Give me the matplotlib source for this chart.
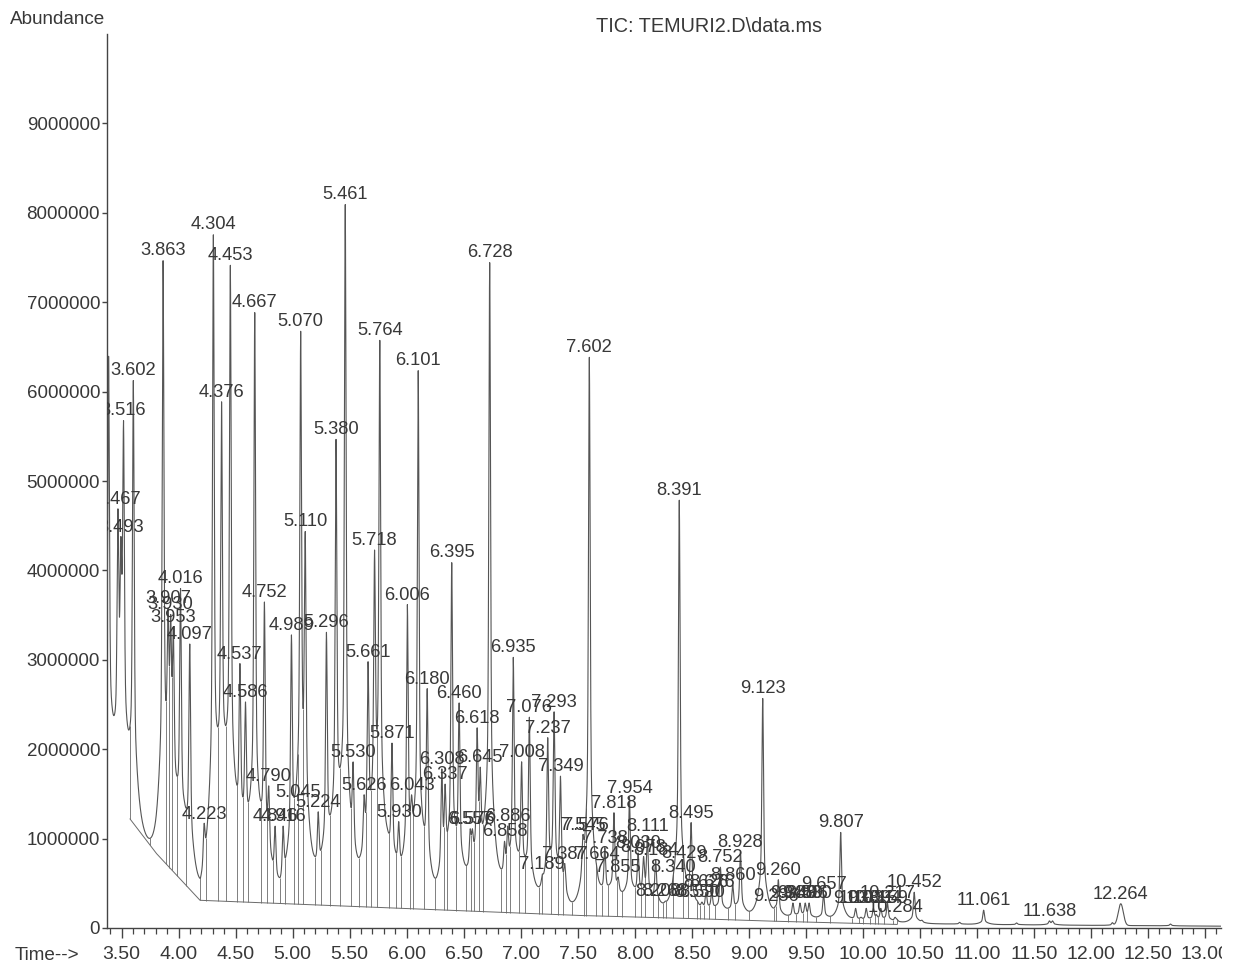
import numpy as np
import matplotlib
matplotlib.use("Agg")
import matplotlib.pyplot as plt
from matplotlib.transforms import offset_copy, Bbox

plt.rcParams['font.family'] = ['Liberation Sans Narrow', 'Liberation Sans', 'DejaVu Sans']

# ---------------- data ----------------
# labelled peaks: retention time (min) and apex abundance (millions)
peak_times = [3.467, 3.493, 3.516, 3.602, 3.863, 3.907, 3.930, 3.953, 4.016, 4.097,
              4.223, 4.304, 4.376, 4.453, 4.537, 4.586, 4.667, 4.752, 4.790, 4.846,
              4.916, 4.989, 5.045, 5.070, 5.110, 5.224, 5.296, 5.380, 5.461, 5.530,
              5.626, 5.661, 5.718, 5.764, 5.871, 5.930, 6.006, 6.043, 6.101, 6.180,
              6.308, 6.337, 6.395, 6.460, 6.557, 6.576, 6.618, 6.645, 6.728, 6.858,
              6.886, 6.935, 7.008, 7.076, 7.189, 7.237, 7.293, 7.349, 7.387, 7.545,
              7.576, 7.602, 7.664, 7.738, 7.818, 7.855, 7.954, 8.030, 8.078, 8.111,
              8.184, 8.208, 8.268, 8.340, 8.391, 8.429, 8.495, 8.550, 8.590, 8.626,
              8.676, 8.752, 8.860, 8.928, 9.123, 9.236, 9.260, 9.388, 9.450, 9.496,
              9.530, 9.657, 9.807, 9.938, 10.031, 10.094, 10.159, 10.217, 10.284, 10.452,
              11.061, 11.638]
peak_apex = [4.69, 4.38, 5.68, 6.13, 7.47, 3.58, 3.51, 3.37, 3.80, 3.18,
             1.17, 7.76, 5.89, 7.42, 2.96, 2.53, 6.89, 3.65, 1.59, 1.14,
             1.14, 3.28, 1.41, 6.68, 4.44, 1.30, 3.31, 5.47, 8.10, 1.86,
             1.49, 2.98, 4.23, 6.58, 2.07, 1.19, 3.62, 1.49, 6.24, 2.68,
             1.78, 1.61, 4.09, 2.52, 1.11, 1.11, 2.24, 1.80, 7.45, 0.97,
             1.14, 3.03, 1.86, 2.36, 0.60, 2.13, 2.42, 1.70, 0.72, 1.04,
             1.04, 6.39, 0.72, 0.90, 1.29, 0.57, 1.46, 0.84, 0.80, 1.03,
             0.76, 0.30, 0.30, 0.57, 4.79, 0.73, 1.18, 0.29, 0.29, 0.40,
             0.40, 0.68, 0.48, 0.85, 2.57, 0.25, 0.54, 0.28, 0.28, 0.28,
             0.28, 0.38, 1.07, 0.22, 0.22, 0.22, 0.22, 0.28, 0.12, 0.40,
             0.20, 0.08]
# broad labelled peak
broad_times = [12.264]
broad_apex = [0.27]
# unlabelled peaks
extra_times = [3.385, 9.985, 10.12, 10.30, 10.52, 10.85, 11.35, 11.665, 12.19, 12.70]
extra_apex = [6.40, 0.10, 0.15, 0.10, 0.06, 0.06, 0.05, 0.08, 0.06, 0.04]
# background (valley floor) control points
bg_times = [3.37, 3.45, 3.57, 3.80, 4.05, 4.19, 4.40, 4.61, 4.89, 5.05, 5.24, 5.57,
            5.83, 5.97, 6.26, 6.57, 6.80, 7.15, 7.43, 7.78, 8.16, 8.60, 9.00, 9.50,
            10.0, 10.5, 11.0, 12.0, 13.2]
bg_vals = [1.60, 1.30, 1.15, 0.80, 0.75, 0.32, 0.90, 0.60, 0.30, 0.60, 0.45, 0.45,
           0.60, 0.35, 0.30, 0.45, 0.40, 0.30, 0.20, 0.30, 0.22, 0.18, 0.13, 0.10,
           0.07, 0.05, 0.04, 0.03, 0.02]
# integration baseline drawn under the peaks
base_times = [3.573, 3.80, 4.186, 5.94, 6.64, 7.52, 8.40, 9.10, 10.30]
base_vals = [1.22, 0.84, 0.31, 0.22, 0.185, 0.14, 0.11, 0.08, 0.04]

# axis tick data
x_major = [3.50, 4.00, 4.50, 5.00, 5.50, 6.00, 6.50, 7.00, 7.50, 8.00, 8.50,
           9.00, 9.50, 10.00, 10.50, 11.00, 11.50, 12.00, 12.50, 13.00]
y_major = [0, 1000000, 2000000, 3000000, 4000000, 5000000, 6000000, 7000000,
           8000000, 9000000]

# ---------------- signal model ----------------
M = 1e6
XMIN, XMAX = 3.3711, 13.143
t = np.arange(XMIN, XMAX, 0.001)


def sharp(dt):
    return 0.65 * np.exp(-0.5 * (dt / 0.007) ** 2) + 0.35 * np.exp(-np.abs(dt) / 0.035)


def broad(dt):
    return np.exp(-0.5 * (dt / 0.022) ** 2)


sh_t = np.array(peak_times + extra_times)
sh_a = np.array(peak_apex + extra_apex) * M
br_t = np.array(broad_times)
br_a = np.array(broad_apex) * M
bgf = lambda x: np.interp(x, bg_times, np.array(bg_vals) * M)

br_h = br_a - bgf(br_t)
target = sh_a - bgf(sh_t) - (broad(sh_t[:, None] - br_t[None, :]) * br_h).sum(1)
K = sharp(sh_t[:, None] - sh_t[None, :])
h = np.linalg.solve(K, target)
for _ in range(30):
    h = np.clip(h, 0.02 * M, None)
    h = h + 0.5 * (target - K @ h)
h = np.clip(h, 0.02 * M, None)

sig = bgf(t) + (sharp(t[:, None] - sh_t[None, :]) * h).sum(1) \
    + (broad(t[:, None] - br_t[None, :]) * br_h).sum(1)
sig_at = lambda x: np.interp(x, t, sig)
basef = lambda x: np.interp(x, base_times, np.array(base_vals) * M)

# ---------------- figure ----------------
fig = plt.figure(figsize=(12.33, 9.75), dpi=100)
ax = fig.add_axes([107 / 1233, (975 - 928) / 975, (1221 - 107) / 1233, (928 - 34) / 975])
ink = '#383838'
line_c = '#555555'

ax.plot(t, sig, color=line_c, lw=0.8, zorder=3)

# integration baseline
bt = t[(t >= base_times[0]) & (t <= base_times[-1])]
ax.plot(bt, basef(bt), color='#6a6a6a', lw=0.7, zorder=2)

# drop lines at valleys between consecutive peaks
all_t = np.sort(np.concatenate([sh_t, br_t]))
drops = [base_times[0]]
for a, b in zip(all_t[:-1], all_t[1:]):
    if a < base_times[0] or b > base_times[-1]:
        continue
    m = (t > a) & (t < b)
    if m.sum() < 2:
        continue
    drops.append(t[m][np.argmin(sig[m])])
drops = np.array(drops)
ax.vlines(drops, basef(drops), sig_at(drops), color='#6a6a6a', lw=0.6, zorder=2)

# peak labels, placed just above each read apex
tr = offset_copy(ax.transData, fig=fig, x=0, y=3.5, units='points')
labels = [f"{v:.3f}" for v in peak_times + broad_times]
for lt, la, lab in zip(peak_times + broad_times, peak_apex + broad_apex, labels):
    tx = ax.text(lt, la * M, lab, transform=tr, ha='center', va='baseline',
                 fontsize=13.2, color=ink, zorder=4)
    tx.set_clip_path(ax.patch)
    tx.set_clip_on(True)

ax.set_xlim(XMIN, XMAX)
ax.set_ylim(0, 10.0 * M)
for s in ['top', 'right']:
    ax.spines[s].set_visible(False)
for s in ['left', 'bottom']:
    ax.spines[s].set_color('#444444')
    ax.spines[s].set_linewidth(1.0)

ax.set_xticks(x_major)
ax.set_xticklabels([f"{v:.2f}" for v in x_major])
ax.set_xticks(np.arange(3.4, 13.15, 0.1), minor=True)
ax.set_yticks(y_major)
ax.set_yticklabels([str(v) for v in y_major])
ax.tick_params(axis='x', which='major', direction='out', length=7, width=1.0,
               color='#444444', labelsize=14, labelcolor=ink, pad=6)
ax.tick_params(axis='x', which='minor', direction='out', length=4, width=0.9,
               color='#444444')
ax.tick_params(axis='y', which='major', direction='out', length=3.5, width=1.0,
               color='#444444', labelsize=13.5, labelcolor=ink, pad=1.5)

# the reference image is cut at its right edge, clipping the last tick label
clip_bb = Bbox([[0, 0], [1222, 975]])
for lab in ax.get_xticklabels():
    lab.set_clip_box(clip_bb)
    lab.set_clip_on(True)

fig.text(10 / 1233, 1 - 20 / 975, 'Abundance', ha='left', va='center', fontsize=13.6, color=ink)
fig.text(15 / 1233, 1 - 955 / 975, 'Time-->', ha='left', va='center', fontsize=13.6, color=ink)
fig.text(709 / 1233, 1 - 26 / 975, 'TIC: TEMURI2.D\\data.ms', ha='center', va='center',
         fontsize=14.3, color=ink)

fig.savefig('out.png', dpi=100, facecolor='white')
